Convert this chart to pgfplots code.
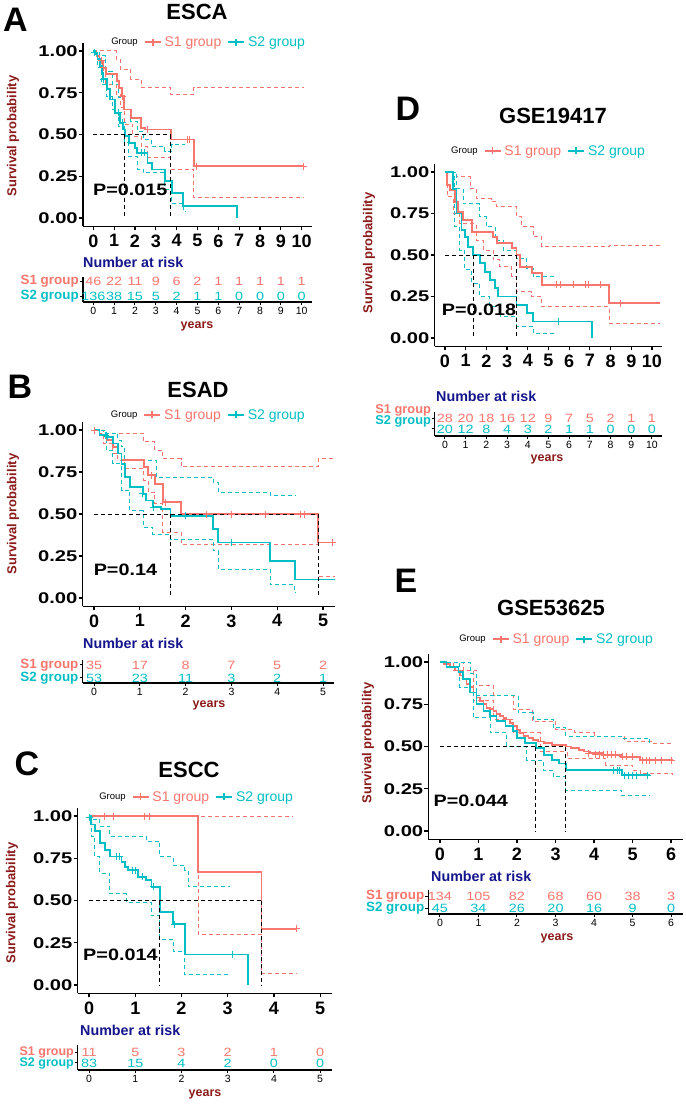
\documentclass[border=0pt]{standalone}
\usepackage{graphicx}
\usepackage{fontspec}
\setmainfont{Liberation Sans}
\usepackage{pgfplots}
\pgfplotsset{compat=1.18}
\definecolor{s1col}{HTML}{F8766D}
\definecolor{s2col}{HTML}{00BFC4}
\definecolor{navyc}{HTML}{14148C}
\definecolor{dred}{HTML}{8B1A1A}
\newcommand\ft[1]{\fontsize{#1}{#1}\selectfont}
\newcommand\sy[1]{\scalebox{1.3}[1]{#1}}
\pgfplotsset{
  /pgf/number format/assume math mode=true,
  kmaxis/.style={scale only axis, clip=false, anchor=south west,
    axis x line*=bottom, axis y line*=left,
    axis line style={line width=1.3pt},
    tick align=outside, major tick length=4pt,
    tick style={line width=1.2pt, black},
    ymin=-0.05, ymax=1.05,
    ytick={0,0.25,0.5,0.75,1},
    yticklabels={\sy{0.00},\sy{0.25},\sy{0.50},\sy{0.75},\sy{1.00}},
    yticklabel style={font=\ft{15.5}\bfseries, inner sep=1pt},
    xticklabel style={font=\ft{18}\bfseries, inner sep=2pt, yshift=-2pt},
    legend style={draw=none, fill=none, inner sep=0pt, legend columns=-1, font=\ft{14}, anchor=west,
      /tikz/every odd column/.append style={column sep=2pt},
      /tikz/every even column/.append style={column sep=5pt},
      nodes={inner sep=1pt}},
    legend cell align=left,
    legend image code/.code={\draw[mark repeat=2,mark phase=2,##1] plot coordinates {(0pt,0pt) (8pt,0pt) (16pt,0pt)};},
  },
  riskaxis/.style={scale only axis, clip=false, anchor=south west,
    axis x line*=bottom, axis y line*=left,
    axis line style={line width=1.2pt},
    tick align=outside, major tick length=3pt,
    tick style={line width=1pt, black},
    ytick={1,2},
    yticklabels={\textcolor{s2col}{S2 group},\textcolor{s1col}{S1 group}},
    yticklabel style={font=\ft{13.4}\bfseries, inner sep=1pt},
    xticklabel style={font=\ft{10.5}, inner sep=2pt},
    point meta=explicit symbolic,
  },
  rs1/.style={draw=none, mark=none, nodes near coords={\scalebox{1.2}[1]{\pgfplotspointmeta}},
    every node near coord/.append style={anchor=center, font=\ft{12}, text=s1col}},
  rs2/.style={draw=none, mark=none, nodes near coords={\scalebox{1.2}[1]{\pgfplotspointmeta}},
    every node near coord/.append style={anchor=center, font=\ft{12}, text=s2col}},
  s1c/.style={s1col, line width=1.8pt, const plot},
  s2c/.style={s2col, line width=1.8pt, const plot},
  s1ci/.style={s1col, line width=1pt, const plot, dash pattern=on 4pt off 3pt},
  s2ci/.style={s2col, line width=1pt, const plot, dash pattern=on 4pt off 3pt},
  c1/.style={only marks, mark=+, mark size=3.5pt, s1col, mark options={line width=1pt}},
  c2/.style={only marks, mark=+, mark size=3.5pt, s2col, mark options={line width=1pt}},
  med/.style={black, line width=1pt, dash pattern=on 4pt off 3pt},
}
\newcommand\legs[1]{%
  \addlegendimage{empty legend}\addlegendentry{\ft{9.5}Group}
  \addlegendimage{s1col, line width=1.8pt, mark=+, mark size=3.5pt}\addlegendentry{\textcolor{s1col}{S1 group}#1}
  \addlegendimage{s2col, line width=1.8pt, mark=+, mark size=3.5pt}\addlegendentry{\textcolor{s2col}{S2 group}}}
\begin{document}
\begin{tikzpicture}
\path[use as bounding box] (0,0) rectangle (685pt,-1105pt);
% ---------------- Panel A ----------------
\node[font=\ft{34}\bfseries] at (15.5pt,-19.5pt) {A};
\node[font=\ft{22}\bfseries] at (197pt,-12pt) {ESCA};
\node[font=\ft{13}\bfseries, text=dred, rotate=90] at (13pt,-136pt) {Survival probability};
\node[font=\ft{14.3}\bfseries, text=navyc, anchor=west, inner sep=0pt] at (83pt,-262pt) {Number at risk};
\node[font=\ft{12.5}\bfseries, text=dred] at (197pt,-326pt) {years};
\begin{axis}[kmaxis, at={(82.9pt,-226.4pt)}, width=229.2pt, height=183.8pt,
  xmin=-0.5, xmax=10.5, xtick={0,...,10}, legend style={at={(0.11,1.003)}}]
\legs{}
\addplot[s1ci] coordinates {(0,1)(1.1,0.95)(1.3,0.89)(1.8,0.83)(2.3,0.78)(3.71,0.74)(4.83,0.78)(10.1,0.78)};
\addplot[s1ci] coordinates {(0,1)(0.3,0.9)(0.6,0.8)(1.1,0.74)(1.3,0.66)(1.5,0.56)(1.9,0.49)(2.3,0.43)(2.6,0.36)(3.71,0.29)(4.83,0.12)(10.1,0.12)};
\addplot[s2ci] coordinates {(0,1)(0.3,0.97)(0.6,0.88)(0.9,0.8)(1.2,0.72)(1.5,0.65)(1.8,0.58)(2.1,0.52)(2.4,0.47)(2.8,0.43)(3.44,0.4)(3.76,0.44)(4.4,0.44)};
\addplot[s2ci] coordinates {(0,1)(0.2,0.9)(0.4,0.8)(0.64,0.73)(0.9,0.65)(1.2,0.55)(1.5,0.45)(1.7,0.37)(2.1,0.29)(2.4,0.27)(3.44,0.17)(3.76,0.09)(4.32,0.04)(4.4,0.04)};
\addplot[s1c] coordinates {(0,1)(0.15,0.97)(0.3,0.94)(0.45,0.9)(0.6,0.86)(1.12,0.82)(1.25,0.78)(1.36,0.73)(1.47,0.65)(1.8,0.6)(2.3,0.54)(2.5,0.53)(3.71,0.47)(4.83,0.31)(10.1,0.31)};
\addplot[s2c] coordinates {(0,1)(0.1,0.98)(0.2,0.95)(0.32,0.91)(0.4,0.87)(0.48,0.83)(0.64,0.77)(0.8,0.71)(1.04,0.63)(1.28,0.57)(1.44,0.53)(1.52,0.49)(1.7,0.45)(2.0,0.42)(2.1,0.39)(2.6,0.33)(2.8,0.29)(3.44,0.22)(3.76,0.15)(4.32,0.07)(6.9,0)};
\addplot[c1] coordinates {(0.4,0.94)(0.5,0.9)(1.4,0.73)(2.6,0.53)(4.5,0.47)(4.6,0.47)(4.96,0.31)(10.08,0.31)};
\addplot[c2] coordinates {(0.05,0.99)(0.5,0.83)(1.2,0.63)(1.4,0.57)(2.3,0.39)(2.45,0.39)};
\addplot[med] coordinates {(0,0.5)(3.71,0.5)};
\addplot[med] coordinates {(1.52,0.5)(1.52,0)};
\addplot[med] coordinates {(3.71,0.5)(3.71,0)};
\node[anchor=west, inner sep=0pt, font=\ft{16.5}\bfseries] at (axis cs:-0.02,0.17) {\scalebox{1.2}[1]{P=0.015}};
\end{axis}
\begin{axis}[riskaxis, at={(82.9pt,-302pt)}, width=229.2pt, height=25pt,
  xmin=-0.5, xmax=10.5, xtick={0,...,10}, ymin=0.6, ymax=2.27]
\addplot[rs1] coordinates {(0,2)[46] (1,2)[22] (2,2)[11] (3,2)[9] (4,2)[6] (5,2)[2] (6,2)[1] (7,2)[1] (8,2)[1] (9,2)[1] (10,2)[1]};
\addplot[rs2] coordinates {(0,1)[136] (1,1)[38] (2,1)[15] (3,1)[5] (4,1)[2] (5,1)[1] (6,1)[1] (7,1)[0] (8,1)[0] (9,1)[0] (10,1)[0]};
\end{axis}
% ---------------- Panel B ----------------
\node[font=\ft{34}\bfseries] at (20pt,-387pt) {B};
\node[font=\ft{22}\bfseries] at (198pt,-390pt) {ESAD};
\node[font=\ft{13}\bfseries, text=dred, rotate=90] at (13pt,-514pt) {Survival probability};
\node[font=\ft{14.3}\bfseries, text=navyc, anchor=west, inner sep=0pt] at (83pt,-643pt) {Number at risk};
\node[font=\ft{12.5}\bfseries, text=dred] at (209pt,-705pt) {years};
\begin{axis}[kmaxis, at={(82.6pt,-606.4pt)}, width=251.9pt, height=184.8pt,
  xmin=-0.25, xmax=5.25, xtick={0,...,5}, legend style={at={(0.1,1.036)}}]
\legs{}
\addplot[s1ci] coordinates {(0,1)(0.12,0.98)(1.07,0.93)(1.33,0.88)(1.5,0.83)(1.9,0.78)(4.89,0.83)(5.25,0.83)};
\addplot[s1ci] coordinates {(0,1)(0.2,0.92)(0.41,0.86)(0.52,0.82)(0.67,0.77)(1.09,0.7)(1.18,0.63)(1.33,0.56)(1.5,0.39)(1.9,0.32)(4.89,0.13)(5.25,0.13)};
\addplot[s2ci] coordinates {(0,1)(0.27,0.98)(0.52,0.94)(0.6,0.9)(0.67,0.82)(1.36,0.72)(2.6,0.69)(2.71,0.63)(3.85,0.61)(4.38,0.61)};
\addplot[s2ci] coordinates {(0,1)(0.27,0.88)(0.41,0.8)(0.6,0.64)(0.78,0.52)(1.07,0.42)(1.28,0.38)(1.67,0.35)(2.6,0.28)(2.71,0.17)(3.85,0.08)(4.38,0.03)(4.4,0.03)};
\addplot[s1c] coordinates {(0,1)(0.12,0.97)(0.27,0.94)(0.41,0.9)(0.52,0.86)(0.6,0.82)(1.09,0.78)(1.18,0.73)(1.33,0.68)(1.5,0.57)(1.9,0.5)(4.89,0.33)(5.25,0.33)};
\addplot[s2c] coordinates {(0,1)(0.12,0.97)(0.27,0.96)(0.41,0.92)(0.52,0.86)(0.6,0.8)(0.67,0.72)(0.78,0.66)(1.07,0.62)(1.14,0.58)(1.28,0.54)(1.46,0.53)(1.67,0.49)(2.6,0.41)(2.71,0.33)(3.85,0.22)(4.38,0.11)(5.25,0.11)};
\addplot[c1] coordinates {(0.02,1)(1.25,0.73)(1.55,0.57)(2.45,0.5)(3.0,0.5)(3.75,0.5)(4.5,0.5)(4.6,0.5)(5.2,0.33)};
\addplot[c2] coordinates {(0.25,0.97)(0.3,0.96)(1.05,0.62)(1.3,0.54)(2.0,0.49)(3.0,0.33)};
\addplot[med] coordinates {(0,0.5)(4.89,0.5)};
\addplot[med] coordinates {(1.67,0.5)(1.67,0)};
\addplot[med] coordinates {(4.89,0.5)(4.89,0)};
\node[anchor=west, inner sep=0pt, font=\ft{16.5}\bfseries] at (axis cs:-0.01,0.167) {\scalebox{1.2}[1]{P=0.14}};
\end{axis}
\begin{axis}[riskaxis, at={(82.6pt,-683pt)}, width=251.9pt, height=23pt,
  xmin=-0.25, xmax=5.25, xtick={0,...,5}, ymin=0.615, ymax=2.38]
\addplot[rs1] coordinates {(0,2)[35] (1,2)[17] (2,2)[8] (3,2)[7] (4,2)[5] (5,2)[2]};
\addplot[rs2] coordinates {(0,1)[53] (1,1)[23] (2,1)[11] (3,1)[3] (4,1)[2] (5,1)[1]};
\end{axis}
% ---------------- Panel C ----------------
\node[font=\ft{34}\bfseries] at (27pt,-764pt) {C};
\node[font=\ft{22}\bfseries] at (189pt,-770pt) {ESCC};
\node[font=\ft{13}\bfseries, text=dred, rotate=90] at (12pt,-903pt) {Survival probability};
\node[font=\ft{14.3}\bfseries, text=navyc, anchor=west, inner sep=0pt] at (80pt,-1030pt) {Number at risk};
\node[font=\ft{12.5}\bfseries, text=dred] at (205pt,-1094pt) {years};
\begin{axis}[kmaxis, at={(77.5pt,-993.45pt)}, width=254.2pt, height=185.9pt,
  xmin=-0.25, xmax=5.25, xtick={0,...,5}, legend style={at={(0.073,1.057)}}]
\legs{}
\addplot[s1ci] coordinates {(0,1)(4.42,1)};
\addplot[s1ci] coordinates {(0,1)(2.36,0.3)(3.73,0.07)(4.49,0.07)};
\addplot[s2ci] coordinates {(0,1)(0.05,0.98)(0.23,0.94)(0.45,0.88)(1.24,0.85)(1.53,0.76)(1.82,0.71)(2.07,0.68)(2.15,0.58)(3.05,0.58)};
\addplot[s2ci] coordinates {(0,1)(0.05,0.88)(0.12,0.76)(0.23,0.66)(0.45,0.54)(0.8,0.49)(1.35,0.41)(1.53,0.27)(1.82,0.2)(2.07,0.06)(3.0,0.06)};
\addplot[s1c] coordinates {(0,1)(2.36,0.667)(3.73,0.333)(4.49,0.333)};
\addplot[s2c] coordinates {(0,1)(0.05,0.95)(0.12,0.91)(0.23,0.84)(0.34,0.8)(0.45,0.76)(0.7,0.73)(0.78,0.7)(0.85,0.68)(1.06,0.64)(1.24,0.62)(1.35,0.58)(1.53,0.43)(1.82,0.36)(2.07,0.18)(3.44,0)};
\addplot[c1] coordinates {(0.34,1)(0.52,1)(1.2,1)(1.3,1)(4.49,0.333)};
\addplot[c2] coordinates {(0.02,0.99)(0.6,0.76)(0.65,0.76)(0.95,0.68)(1.0,0.68)(1.15,0.64)(1.4,0.58)(1.85,0.36)(3.1,0.18)};
\addplot[med] coordinates {(0,0.5)(3.73,0.5)};
\addplot[med] coordinates {(1.53,0.5)(1.53,0)};
\addplot[med] coordinates {(3.73,0.5)(3.73,0)};
\node[anchor=west, inner sep=0pt, font=\ft{16.5}\bfseries] at (axis cs:-0.13,0.18) {\scalebox{1.2}[1]{P=0.014}};
\end{axis}
\begin{axis}[riskaxis, at={(77.5pt,-1070pt)}, width=254.2pt, height=25pt,
  xmin=-0.25, xmax=5.25, xtick={0,...,5}, ymin=0.36, ymax=2.64,
  yticklabel style={font=\ft{12.5}\bfseries, inner sep=0.5pt}]
\addplot[rs1] coordinates {(0,2)[11] (1,2)[5] (2,2)[3] (3,2)[2] (4,2)[1] (5,2)[0]};
\addplot[rs2] coordinates {(0,1)[83] (1,1)[15] (2,1)[4] (3,1)[2] (4,1)[0] (5,1)[0]};
\end{axis}
% ---------------- Panel D ----------------
\node[font=\ft{34}\bfseries] at (408pt,-109pt) {D};
\node[font=\ft{22}\bfseries] at (553pt,-116pt) {GSE19417};
\node[font=\ft{13}\bfseries, text=dred, rotate=90] at (369pt,-253pt) {Survival probability};
\node[font=\ft{14.3}\bfseries, text=navyc, anchor=west, inner sep=0pt] at (436pt,-396pt) {Number at risk};
\node[font=\ft{12.5}\bfseries, text=dred] at (547pt,-459pt) {years};
\begin{axis}[kmaxis, at={(434.6pt,-346.3pt)}, width=227.7pt, height=182.6pt,
  xmin=-0.5, xmax=10.5, xtick={0,...,10}, legend style={at={(0.059,1.07)}}]
\legs{\hspace{22pt}}
\addplot[s1ci] coordinates {(0,1)(0.56,0.97)(1.21,0.9)(1.53,0.84)(2.25,0.82)(2.5,0.79)(3.46,0.73)(3.7,0.67)(4.27,0.61)(4.67,0.55)(7.94,0.56)(10.4,0.56)};
\addplot[s1ci] coordinates {(0,1)(0.11,0.85)(0.4,0.75)(0.72,0.69)(1.5,0.59)(1.85,0.53)(2.33,0.47)(2.65,0.43)(3.22,0.37)(3.46,0.28)(4.19,0.25)(4.67,0.19)(7.94,0.09)(10.4,0.09)};
\addplot[s2ci] coordinates {(0,1)(0.56,0.9)(0.88,0.81)(1.69,0.73)(2.0,0.67)(2.42,0.59)(2.82,0.53)(3.46,0.48)(3.95,0.42)(4.27,0.37)(5.4,0.37)};
\addplot[s2ci] coordinates {(0,1)(0.48,0.67)(0.72,0.53)(0.96,0.41)(1.29,0.33)(1.69,0.25)(2.17,0.19)(2.66,0.13)(3.46,0.07)(4.27,0.03)(5.4,0.03)};
\addplot[s1c] coordinates {(0,1)(0.11,0.92)(0.24,0.89)(0.48,0.82)(0.64,0.76)(0.89,0.71)(1.29,0.64)(2.33,0.61)(2.5,0.57)(3.22,0.54)(3.46,0.5)(3.62,0.43)(4.19,0.39)(4.67,0.32)(7.94,0.21)(10.4,0.21)};
\addplot[s2c] coordinates {(0,1)(0.4,0.9)(0.56,0.75)(0.8,0.65)(0.96,0.61)(1.13,0.55)(1.37,0.5)(1.69,0.45)(1.93,0.4)(2.17,0.35)(2.42,0.3)(2.58,0.25)(3.46,0.2)(3.95,0.15)(4.27,0.1)(7.09,0)};
\addplot[c1] coordinates {(5.4,0.32)(5.6,0.32)(6.2,0.32)(6.8,0.32)(6.95,0.32)(7.5,0.32)(8.5,0.21)};
\addplot[c2] coordinates {(5.5,0.1)};
\addplot[med] coordinates {(0,0.5)(3.46,0.5)};
\addplot[med] coordinates {(1.37,0.5)(1.37,0)};
\addplot[med] coordinates {(3.46,0.5)(3.46,0)};
\node[anchor=west, inner sep=0pt, font=\ft{16.5}\bfseries] at (axis cs:-0.16,0.17) {\scalebox{1.2}[1]{P=0.018}};
\end{axis}
\begin{axis}[riskaxis, at={(434.6pt,-436pt)}, width=227.7pt, height=24pt,
  xmin=-0.5, xmax=10.5, xtick={0,...,10}, ymin=0.36, ymax=2.55,
  yticklabel style={font=\ft{12.8}\bfseries, inner sep=0.5pt, yshift=8pt}]
\addplot[rs1] coordinates {(0,2)[28] (1,2)[20] (2,2)[18] (3,2)[16] (4,2)[12] (5,2)[9] (6,2)[7] (7,2)[5] (8,2)[2] (9,2)[1] (10,2)[1]};
\addplot[rs2] coordinates {(0,1)[20] (1,1)[12] (2,1)[8] (3,1)[4] (4,1)[3] (5,1)[2] (6,1)[1] (7,1)[1] (8,1)[0] (9,1)[0] (10,1)[0]};
\end{axis}
% ---------------- Panel E ----------------
\node[font=\ft{34}\bfseries] at (406pt,-581pt) {E};
\node[font=\ft{22}\bfseries] at (551pt,-608pt) {GSE53625};
\node[font=\ft{13}\bfseries, text=dred, rotate=90] at (368pt,-743pt) {Survival probability};
\node[font=\ft{14.3}\bfseries, text=navyc, anchor=west, inner sep=0pt] at (431pt,-876pt) {Number at risk};
\node[font=\ft{12.5}\bfseries, text=dred] at (557pt,-938pt) {years};
\begin{axis}[kmaxis, at={(428.4pt,-839.45pt)}, width=254.2pt, height=185.9pt,
  xmin=-0.3, xmax=6.3, xtick={0,...,6}, legend style={at={(0.109,1.078)}}]
\legs{}
\addplot[s1ci] coordinates {(0,1)(0.6,0.95)(0.95,0.86)(1.4,0.8)(1.9,0.72)(2.4,0.65)(3.0,0.6)(3.5,0.58)(4.0,0.56)(4.8,0.53)(5.5,0.52)(6.05,0.52)};
\addplot[s1ci] coordinates {(0,1)(0.35,0.95)(0.87,0.77)(1.39,0.66)(1.9,0.58)(2.6,0.47)(3.3,0.43)(4.3,0.39)(5.0,0.36)(5.2,0.34)(6.05,0.33)};
\addplot[s2ci] coordinates {(0,1)(0.78,0.93)(0.95,0.8)(1.9,0.8)(2.03,0.7)(2.42,0.66)(2.94,0.61)(3.27,0.56)(4.72,0.55)(5.45,0.51)};
\addplot[s2ci] coordinates {(0,1)(0.52,0.85)(0.87,0.67)(1.3,0.58)(1.73,0.5)(2.25,0.42)(2.68,0.36)(2.94,0.32)(3.27,0.24)(4.72,0.21)(5.45,0.21)};
\addplot[s1c] coordinates {(0,1)(0.1,0.99)(0.26,0.97)(0.4,0.95)(0.52,0.92)(0.6,0.9)(0.69,0.87)(0.78,0.85)(0.87,0.82)(0.95,0.79)(1.04,0.77)(1.13,0.75)(1.21,0.73)(1.3,0.72)(1.39,0.71)(1.47,0.69)(1.56,0.68)(1.65,0.67)(1.73,0.66)(1.82,0.64)(1.9,0.62)(2.0,0.6)(2.08,0.58)(2.17,0.56)(2.3,0.55)(2.42,0.54)(2.55,0.53)(2.7,0.52)(2.9,0.51)(3.27,0.5)(3.4,0.49)(3.6,0.48)(3.75,0.47)(3.9,0.46)(4.2,0.45)(4.7,0.44)(5.2,0.42)(6.05,0.42)};
\addplot[s2c] coordinates {(0,1)(0.17,0.97)(0.48,0.94)(0.6,0.9)(0.78,0.82)(0.95,0.75)(1.13,0.71)(1.3,0.68)(1.47,0.65)(1.7,0.62)(1.9,0.59)(2.0,0.55)(2.2,0.52)(2.49,0.49)(2.7,0.45)(2.9,0.42)(3.1,0.4)(3.27,0.36)(4.72,0.33)(5.45,0.33)};
\addplot[c1] coordinates {(3.85,0.46)(4.05,0.45)(4.15,0.45)(4.25,0.45)(4.35,0.45)(4.45,0.45)(4.55,0.45)(4.75,0.44)(4.85,0.44)(5.0,0.44)(5.25,0.42)(5.35,0.42)(5.45,0.42)(5.6,0.42)(5.75,0.42)(6.0,0.42)};
\addplot[c2] coordinates {(4.5,0.36)(4.6,0.36)(4.65,0.36)(4.8,0.33)(4.9,0.33)(5.0,0.33)(5.1,0.33)(5.4,0.33)};
\addplot[med] coordinates {(0,0.5)(3.27,0.5)};
\addplot[med] coordinates {(2.49,0.5)(2.49,0)};
\addplot[med] coordinates {(3.27,0.5)(3.27,0)};
\node[anchor=west, inner sep=0pt, font=\ft{16.5}\bfseries] at (axis cs:-0.17,0.18) {\scalebox{1.2}[1]{P=0.044}};
\end{axis}
\begin{axis}[riskaxis, at={(428.4pt,-914pt)}, width=254.2pt, height=24pt,
  xmin=-0.3, xmax=6.3, xtick={0,...,6}, ymin=0.5, ymax=2.5]
\addplot[rs1] coordinates {(0,2)[134] (1,2)[105] (2,2)[82] (3,2)[68] (4,2)[60] (5,2)[38] (6,2)[3]};
\addplot[rs2] coordinates {(0,1)[45] (1,1)[34] (2,1)[26] (3,1)[20] (4,1)[16] (5,1)[9] (6,1)[0]};
\end{axis}
\end{tikzpicture}
\end{document}
